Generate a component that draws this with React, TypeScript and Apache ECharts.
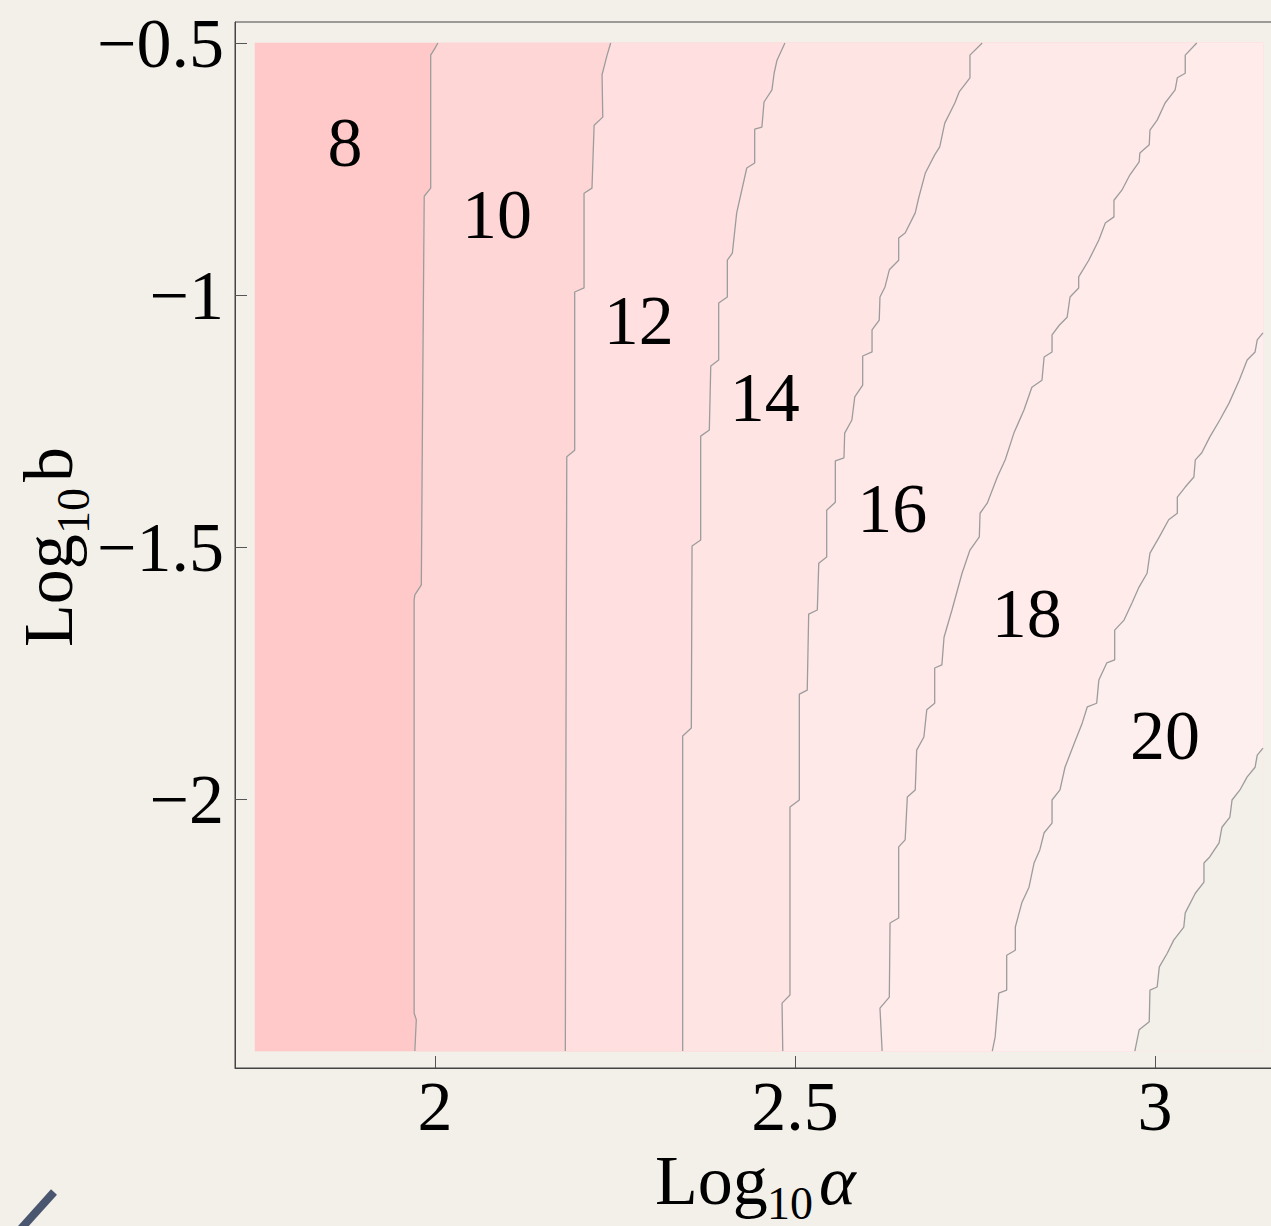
import React, { useEffect, useRef } from "react";
import * as echarts from "echarts";

// ---------- data (axis units: Log10 alpha, Log10 b) ----------
const X_TICKS = [2, 2.5, 3];
const Y_TICKS = [-2, -1.5, -1, -0.5];
const X_RANGE = [1.75, 3.15];
const Y_RANGE = [-2.5, -0.5];

const LEVELS = [8, 10, 12, 14, 16, 18, 20];
const LABEL_POS = [
  [1.875, -0.698],
  [2.086, -0.841],
  [2.283, -1.05],
  [2.458, -1.204],
  [2.635, -1.423],
  [2.822, -1.631],
  [3.014, -1.873],
];

const contour8 = [
  [2.004, -0.5], [2.0, -0.51], [1.994, -0.524], [1.994, -0.788], [1.985, -0.804],
  [1.983, -1.169], [1.981, -1.575], [1.972, -1.595], [1.971, -1.605], [1.971, -2.425],
  [1.974, -2.438], [1.972, -2.5],
];
const contour10 = [
  [2.244, -0.5], [2.239, -0.524], [2.232, -0.563], [2.233, -0.647], [2.221, -0.663],
  [2.218, -0.788], [2.207, -0.798], [2.207, -0.986], [2.194, -0.994], [2.194, -1.308],
  [2.183, -1.321], [2.182, -1.823], [2.181, -2.5],
];
const contour12 = [
  [2.486, -0.5], [2.475, -0.534], [2.471, -0.56], [2.468, -0.593], [2.457, -0.617],
  [2.454, -0.667], [2.444, -0.671], [2.444, -0.738], [2.433, -0.748], [2.419, -0.837],
  [2.413, -0.917], [2.406, -0.931], [2.406, -1.004], [2.394, -1.016], [2.394, -1.129],
  [2.383, -1.141], [2.381, -1.268], [2.369, -1.28], [2.369, -1.486], [2.357, -1.498],
  [2.356, -1.859], [2.344, -1.875], [2.344, -2.5],
];
const contour14 = [
  [2.76, -0.5], [2.743, -0.524], [2.743, -0.569], [2.728, -0.597], [2.722, -0.619],
  [2.708, -0.659], [2.701, -0.706], [2.694, -0.722], [2.681, -0.758], [2.672, -0.806],
  [2.667, -0.837], [2.653, -0.877], [2.644, -0.887], [2.644, -0.931], [2.631, -0.95],
  [2.625, -0.984], [2.618, -1.004], [2.617, -1.05], [2.607, -1.069], [2.607, -1.113],
  [2.594, -1.121], [2.594, -1.179], [2.583, -1.202], [2.579, -1.248], [2.569, -1.274],
  [2.568, -1.323], [2.556, -1.329], [2.556, -1.411], [2.544, -1.427], [2.544, -1.52],
  [2.533, -1.532], [2.531, -1.625], [2.519, -1.633], [2.517, -1.784], [2.506, -1.792],
  [2.506, -2.002], [2.493, -2.016], [2.493, -2.389], [2.482, -2.405], [2.483, -2.5],
];
const contour16 = [
  [3.058, -0.5], [3.042, -0.524], [3.042, -0.56], [3.031, -0.569], [3.028, -0.593],
  [3.014, -0.619], [3.003, -0.653], [2.993, -0.673], [2.992, -0.702], [2.979, -0.718],
  [2.978, -0.736], [2.965, -0.762], [2.954, -0.792], [2.943, -0.812], [2.943, -0.845],
  [2.931, -0.857], [2.922, -0.891], [2.908, -0.931], [2.894, -0.964], [2.894, -0.986],
  [2.882, -1.004], [2.878, -1.044], [2.867, -1.06], [2.857, -1.079], [2.857, -1.113],
  [2.846, -1.123], [2.843, -1.169], [2.829, -1.183], [2.818, -1.228], [2.804, -1.274],
  [2.792, -1.327], [2.781, -1.361], [2.767, -1.413], [2.757, -1.433], [2.756, -1.48],
  [2.743, -1.506], [2.732, -1.552], [2.718, -1.625], [2.707, -1.679], [2.704, -1.734],
  [2.694, -1.74], [2.694, -1.81], [2.683, -1.823], [2.679, -1.877], [2.669, -1.903],
  [2.667, -1.982], [2.656, -1.996], [2.653, -2.081], [2.644, -2.095], [2.644, -2.236],
  [2.632, -2.246], [2.631, -2.393], [2.618, -2.415], [2.621, -2.5],
];
const contour18 = [
  [3.15, -1.075], [3.142, -1.089], [3.139, -1.113], [3.128, -1.129], [3.117, -1.169],
  [3.103, -1.214], [3.09, -1.248], [3.076, -1.282], [3.065, -1.313], [3.056, -1.327],
  [3.054, -1.361], [3.042, -1.381], [3.031, -1.401], [3.031, -1.433], [3.019, -1.446],
  [3.006, -1.48], [2.993, -1.512], [2.989, -1.552], [2.978, -1.579], [2.968, -1.611],
  [2.957, -1.645], [2.944, -1.665], [2.944, -1.724], [2.933, -1.73], [2.922, -1.764],
  [2.919, -1.81], [2.906, -1.817], [2.899, -1.849], [2.888, -1.889], [2.875, -1.937],
  [2.868, -1.982], [2.857, -2.002], [2.857, -2.048], [2.846, -2.067], [2.84, -2.101],
  [2.832, -2.127], [2.825, -2.175], [2.815, -2.206], [2.806, -2.254], [2.806, -2.3],
  [2.794, -2.31], [2.794, -2.379], [2.783, -2.385], [2.778, -2.472], [2.774, -2.5],
];
const contour20 = [
  [3.15, -1.899], [3.142, -1.913], [3.139, -1.937], [3.128, -1.956], [3.118, -1.982],
  [3.107, -2.002], [3.104, -2.036], [3.093, -2.056], [3.089, -2.087], [3.076, -2.115],
  [3.068, -2.127], [3.068, -2.165], [3.056, -2.187], [3.042, -2.226], [3.04, -2.254],
  [3.026, -2.28], [3.017, -2.306], [3.006, -2.333], [3.003, -2.373], [2.993, -2.379],
  [2.992, -2.442], [2.978, -2.458], [2.972, -2.5],
];
const CONTOURS = [contour8, contour10, contour12, contour14, contour16, contour18, contour20];

const BG = "#f3f0e9";
// fill colours: region 8..10, 10..12, ..., 20..22, >22 (unfilled)
const REGION_COLORS = ["#ffc9c9", "#ffd6d6", "#ffdfdf", "#ffe4e4", "#ffe8e8", "#ffebea", "#fdefee", BG];

const FONT = '"Liberation Serif", "Times New Roman", serif';

const fmtY = (v: number) => (v < 0 ? "\u2212" + String(Math.abs(v)) : String(v));

function polygonSeries(points: number[][], color: string, z: number) {
  return {
    type: "custom",
    coordinateSystem: "cartesian2d",
    silent: true,
    z,
    data: [points[0]],
    renderItem: (_p: any, api: any) => ({
      type: "polygon",
      shape: { points: points.map((p) => api.coord(p)) },
      style: { fill: color, stroke: color, lineWidth: 0.6 },
    }),
  };
}

export default function App() {
  const ref = useRef<HTMLDivElement>(null);

  useEffect(() => {
    document.body.style.background = BG;
    const chart = echarts.init(ref.current!, undefined, { renderer: "svg" });

    const [x0, x1] = X_RANGE;
    const [y0, y1] = Y_RANGE;

    const regions: number[][][] = [
      [[x0, y1], [x1, y1], [x1, y0], [x0, y0]],
      ...CONTOURS.map((c) => {
        const startOnRight = c[0][0] >= x1;
        return startOnRight ? [...c, [x1, y0]] : [...c, [x1, y0], [x1, y1]];
      }),
    ];

    const series: any[] = [];
    regions.forEach((r, i) => series.push(polygonSeries(r, REGION_COLORS[i], 1)));
    CONTOURS.forEach((c) =>
      series.push({
        type: "line",
        data: c,
        symbol: "none",
        silent: true,
        z: 3,
        lineStyle: { color: "#9c9c9c", width: 1.3 },
      })
    );
    series.push({
      type: "scatter",
      z: 5,
      silent: true,
      symbolSize: 1,
      itemStyle: { color: "rgba(0,0,0,0)" },
      data: LABEL_POS.map((p, i) => ({ value: p, name: String(LEVELS[i]) })),
      label: {
        show: true,
        position: "inside",
        formatter: "{b}",
        fontSize: 70,
        fontFamily: FONT,
        color: "#000",
        textBorderWidth: 0,
        opacity: 1,
      },
    });

    chart.setOption({
      animation: false,
      backgroundColor: BG,
      grid: {
        left: 235,
        top: 22,
        width: 1046,
        height: 1046,
        show: true,
        borderColor: "#444",
        borderWidth: 1,
        backgroundColor: "transparent",
      },
      xAxis: {
        type: "value",
        min: 1.7222,
        max: 3.175,
        axisLine: { show: true, lineStyle: { color: "#444", width: 1 } },
        axisTick: {
          show: true,
          inside: true,
          length: 12,
          customValues: X_TICKS,
          lineStyle: { color: "#555", width: 1 },
        },
        axisLabel: {
          customValues: X_TICKS,
          formatter: (v: number) => String(v),
          fontSize: 70,
          fontFamily: FONT,
          color: "#000",
          margin: 3,
        },
        splitLine: { show: false },
      },
      yAxis: {
        type: "value",
        min: -2.5337,
        max: -0.4583,
        axisLine: { show: true, lineStyle: { color: "#444", width: 1 } },
        axisTick: {
          show: true,
          inside: true,
          length: 12,
          customValues: Y_TICKS,
          lineStyle: { color: "#555", width: 1 },
        },
        axisLabel: {
          customValues: Y_TICKS,
          formatter: fmtY,
          fontSize: 70,
          fontFamily: FONT,
          color: "#000",
          margin: 11,
          padding: [0, 0, 15, 0],
        },
        splitLine: { show: false },
      },
      graphic: [
        {
          type: "group",
          x: 655,
          y: 1204,
          children: [
            { type: "text", x: 0, y: -24, style: { text: "Log", font: `70px ${FONT}`, fill: "#000", verticalAlign: "middle" } },
            { type: "text", x: 112, y: -1, style: { text: "10", font: `46px ${FONT}`, fill: "#000", verticalAlign: "middle" } },
            { type: "text", x: 164, y: -24, style: { text: "\u03b1", font: `italic 70px ${FONT}`, fill: "#000", verticalAlign: "middle" } },
          ],
        },
        {
          type: "group",
          x: 72,
          y: 647,
          rotation: Math.PI / 2,
          children: [
            { type: "text", x: 0, y: -24, style: { text: "Log", font: `70px ${FONT}`, fill: "#000", verticalAlign: "middle" } },
            { type: "text", x: 113, y: 1, style: { text: "10", font: `46px ${FONT}`, fill: "#000", verticalAlign: "middle" } },
            { type: "text", x: 165, y: -24, style: { text: "b", font: `70px ${FONT}`, fill: "#000", verticalAlign: "middle" } },
          ],
        },
        {
          type: "line",
          shape: { x1: 18, y1: 1232, x2: 54, y2: 1192 },
          style: { stroke: "#4a5670", lineWidth: 8 },
        },
      ],
      series,
    });

    return () => chart.dispose();
  }, []);

  return (
    <div style={{ position: "fixed", left: 0, top: 0, width: 1271, height: 1226, overflow: "hidden", background: BG }}>
      <div ref={ref} style={{ width: 1300, height: 1226 }} />
    </div>
  );
}
